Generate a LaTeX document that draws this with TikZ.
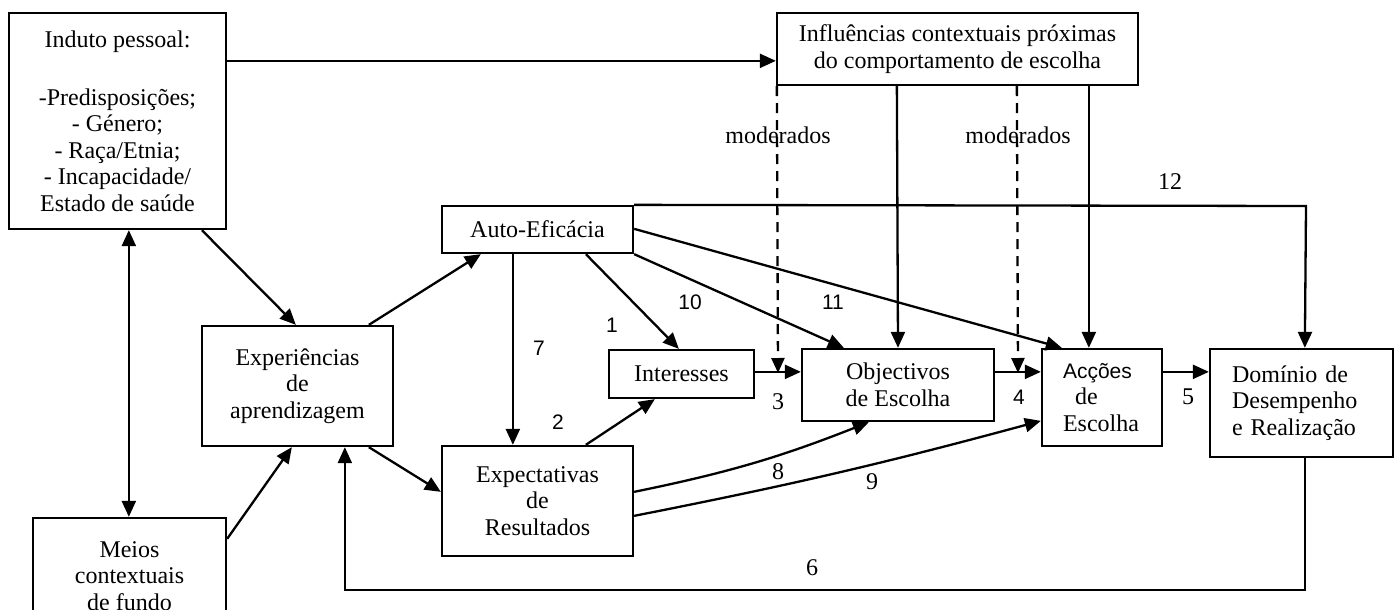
\documentclass[tikz,border=0pt]{standalone}
\usepackage{fontspec}
\setmainfont{Liberation Serif}
\newfontfamily\arialf{Liberation Sans}
\usetikzlibrary{arrows.meta,calc}
\begin{document}
\begin{tikzpicture}[x=1pt,y=-1pt,
  box/.style={draw, line width=2.3pt, align=center, inner sep=0pt,
    font=\fontsize{24}{26.5}\selectfont},
  conn/.style={line width=2.3pt, -{Triangle[length=16pt,width=14pt]}},
  biconn/.style={line width=2.3pt, {Triangle[length=16pt,width=14pt]}-{Triangle[length=16pt,width=14pt]}},
  modline/.style={line width=2.3pt, dash pattern=on 10pt off 7pt, -{Triangle[length=15pt,width=13pt]}},
  lbl/.style={font=\fontsize{24}{26.5}\selectfont, inner sep=0pt},
  nums/.style={font=\arialf\fontsize{21}{24}\selectfont, inner sep=0pt},
  numr/.style={font=\fontsize{24}{26.5}\selectfont, inner sep=0pt}]
\useasboundingbox (0,0) rectangle (1394,610);

% boxes
\node[box, minimum width=217, minimum height=216] (ind) at (117.5,121)
  {Induto pessoal:\\[31.5pt]-Predisposições;\\- Género;\\- Raça/Etnia;\\- Incapacidade/\\Estado de saúde};
\node[box, minimum width=193, minimum height=116] (mei) at (129.5,576)
  {Meios\\contextuais\\de fundo};
\node[box, minimum width=361, minimum height=72] (inf) at (957.5,49)
  {Influências contextuais próximas\\do comportamento de escolha};
\node[box, minimum width=191, minimum height=47] (auto) at (537.5,229.5) {Auto-Eficácia};
\node[box, minimum width=145, minimum height=48] (int) at (681.5,374) {Interesses};
\node[box, minimum width=192, minimum height=72] (obj) at (898,385) {Objectivos\\de Escolha};
\node[box, minimum width=120, minimum height=97, text width=78pt, inner xsep=21pt, align=left] (acc) at (1102,397.5)
  {{\arialf\fontsize{21}{26}\selectfont Acções}\\\hspace*{12pt}de\\Escolha};
\node[box, minimum width=183, minimum height=108, text width=139pt, inner xsep=22pt, align=left] (dom) at (1301.5,403)
  {Domínio de\\Desempenho\\e Realização};
\node[box, minimum width=191, minimum height=120] (exp) at (297.5,386)
  {Experiências\\de\\aprendizagem};
\node[box, minimum width=191, minimum height=110] (res) at (537.5,501)
  {Expectativas\\de\\Resultados};

% helper coordinates
\coordinate (m1) at (778,373);
\coordinate (m2) at (1018,373);
\coordinate (domb) at ($(dom.south west)+(96,0)$);
\coordinate (expb) at ($(exp.south west)+(144,0)$);
\coordinate (fb) at (0,590);
\coordinate (c12) at (1306,206);

% connectors
\draw[conn] ($(ind.north east)+(0,49)$) -- ($(inf.north west)+(0,49)$);
\draw[biconn] ($(ind.south west)+(121,0)$) -- ($(mei.north west)+(97,0)$);
\draw[conn] ($(ind.south west)+(194,0)$) -- ($(exp.north west)+(95,0)$);
\draw[conn] ($(mei.north east)+(0,22)$) -- ($(exp.south west)+(91,0)$);
\draw[conn] ($(exp.north west)+(168,0)$) -- ($(auto.south west)+(40,0)$);
\draw[conn] ($(exp.south west)+(168,0)$) -- ($(res.north west)+(0,47)$);
\draw[conn] ($(auto.south west)+(72,0)$) -- ($(res.north west)+(72,0)$);
\draw[conn] ($(auto.south west)+(145,0)$) -- ($(int.north west)+(71,0)$);
\draw[conn] (auto.south east) -- ($(obj.north west)+(43,0)$);
\draw[conn] ($(auto.north east)+(0,24)$) -- ($(acc.north west)+(21,0)$);
\draw[conn] (auto.north east) -- (c12) -- ($(dom.north west)+(96,0)$);
\draw[conn] ($(res.north west)+(145,0)$) -- ($(int.south west)+(47,0)$);
\draw[conn] ($(int.north east)+(0,23)$) -- ($(obj.north west)+(0,24)$);
\draw[conn] ($(obj.north east)+(0,24)$) -- ($(acc.north west)+(0,24)$);
\draw[conn] ($(acc.north east)+(0,24)$) -- ($(dom.north west)+(0,24)$);
\draw[conn] (domb) -- (domb |- fb) -| (expb);
\draw[conn] ($(res.north east)+(0,47)$) to[bend right=5] ($(obj.south west)+(68,0)$);
\draw[conn] ($(res.north east)+(0,71)$) to[bend right=2] ($(acc.north west)+(0,73)$);
\draw[conn] ($(inf.south west)+(121,0)$) -- (obj.north);
\draw[conn] ($(inf.south west)+(313,0)$) -- ($(acc.north west)+(48,0)$);
\draw[modline] ($(inf.south west)+(1,0)$) -- (m1);
\draw[modline] ($(inf.south west)+(241,0)$) -- (m2);

% labels
\node[lbl] (mod1) at (778,135) {moderados};
\node[lbl] (mod2) at (1018,135) {moderados};
\node[nums] (n1) at (612,325) {1};
\node[nums] (n2) at (558,422) {2};
\node[numr] (n3) at (778,402) {3};
\node[nums] (n4) at (1019,397) {4};
\node[numr] (n5) at (1188,397) {5};
\node[numr] (n6) at (812,568) {6};
\node[nums] (n7) at (539,348) {7};
\node[numr] (n8) at (778,472) {8};
\node[numr] (n9) at (872,482) {9};
\node[nums] (n10) at (690,302) {10};
\node[nums] (n11) at (833,302) {11};
\node[numr] (n12) at (1170,182) {12};
\end{tikzpicture}
\end{document}
